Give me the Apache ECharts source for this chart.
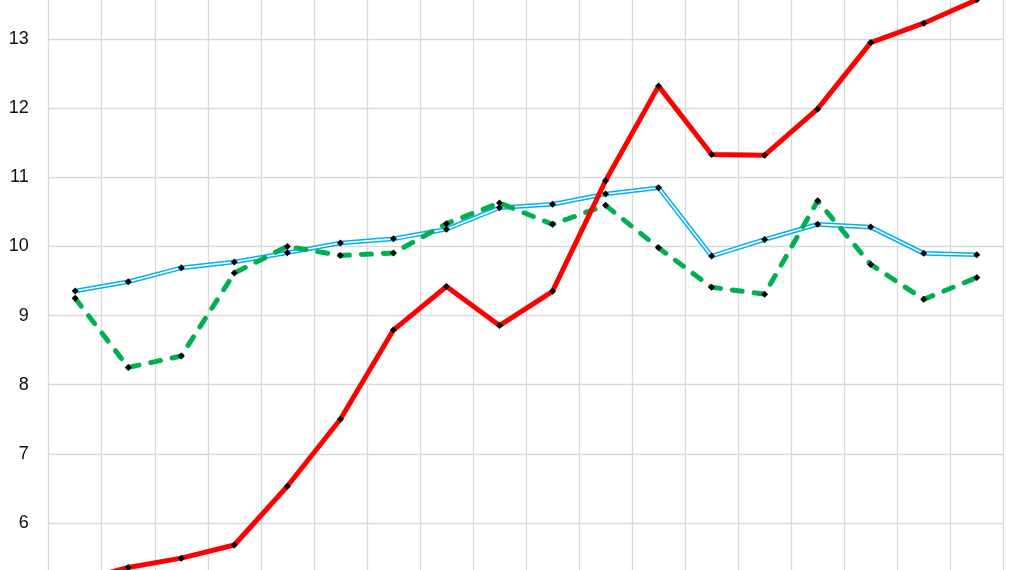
<!DOCTYPE html>
<html>
<head>
<meta charset="utf-8">
<script src="https://cdn.jsdelivr.net/npm/echarts@6/dist/echarts.min.js"></script>
<style>
html,body{margin:0;padding:0;background:#fff;overflow:hidden;width:1014px;height:570px;}
#chart{position:absolute;left:0;top:-30.44px;width:1014px;height:622.28px;}
</style>
</head>
<body>
<div id="chart"></div>
<script>
const categories = ['1','2','3','4','5','6','7','8','9','10','11','12','13','14','15','16','17','18'];
const redSeries = [5.15, 5.355, 5.49, 5.68, 6.53, 7.50, 8.79, 9.42, 8.855, 9.35, 10.95, 12.32, 11.33, 11.32, 11.99, 12.95, 13.23, 13.57];
const blueSeries = [9.355, 9.49, 9.69, 9.775, 9.91, 10.05, 10.11, 10.25, 10.56, 10.61, 10.76, 10.85, 9.86, 10.10, 10.32, 10.28, 9.90, 9.88];
const greenSeries = [9.25, 8.25, 8.415, 9.615, 10.00, 9.87, 9.905, 10.33, 10.63, 10.32, 10.595, 9.98, 9.41, 9.31, 10.66, 9.74, 9.235, 9.55];
const yMin = 5, yMax = 14, yStep = 1;

const chart = echarts.init(document.getElementById('chart'), null, {renderer: 'canvas'});
const marker = {symbol: 'diamond', symbolSize: 7, itemStyle: {color: '#000'}};
chart.setOption({
  animation: false,
  backgroundColor: '#fff',
  grid: {left: 48.7, right: 10.7, top: 0, bottom: 0, containLabel: false, outerBoundsMode: 'none'},
  xAxis: {
    type: 'category', data: categories, boundaryGap: true,
    axisLine: {show: false}, axisTick: {show: false}, axisLabel: {show: false},
    splitLine: {show: true, lineStyle: {color: '#D9D9D9', width: 1.3}}
  },
  yAxis: {
    type: 'value', min: yMin, max: yMax, interval: yStep,
    axisLine: {show: false}, axisTick: {show: false},
    axisLabel: {color: '#0d0d0d', fontSize: 18, fontFamily: 'Liberation Sans', margin: 20},
    splitLine: {show: true, lineStyle: {color: '#D9D9D9', width: 1.3}}
  },
  series: [
    {type: 'line', data: blueSeries, symbol: 'none', z: 2,
     lineStyle: {color: '#00B0F0', width: 4.6}},
    {type: 'line', data: blueSeries, z: 3, ...marker,
     lineStyle: {color: '#FFFFFF', width: 1.6}},
    {type: 'line', data: greenSeries, z: 4, ...marker,
     lineStyle: {color: '#00B050', width: 5, type: [10, 12], cap: 'round'}},
    {type: 'line', data: redSeries, z: 5, ...marker,
     lineStyle: {color: '#FF0000', width: 5}}
  ]
});
</script>
</body>
</html>
